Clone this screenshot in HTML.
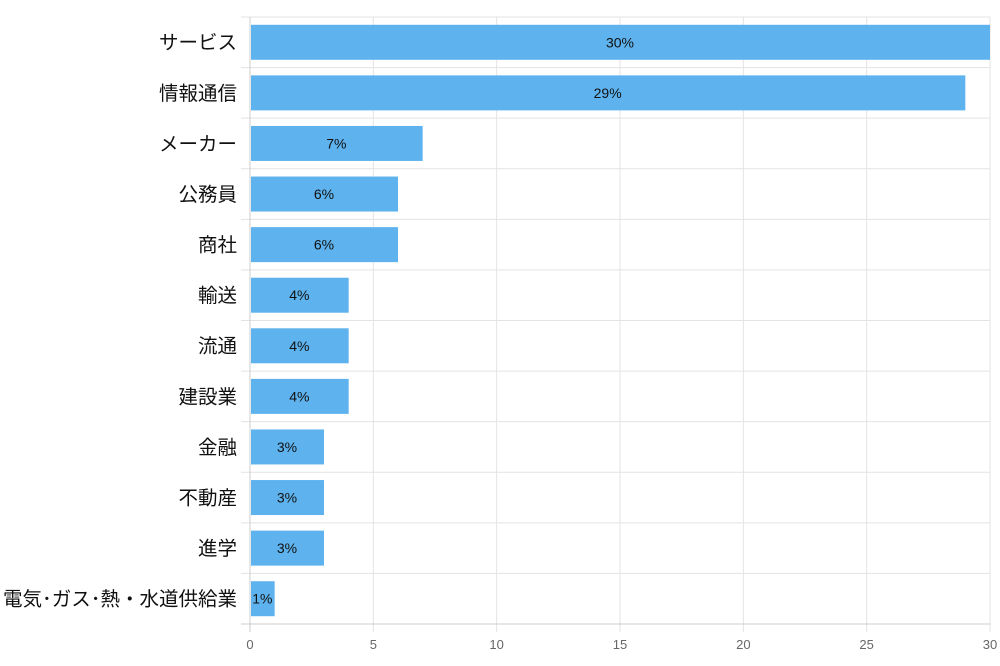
<!DOCTYPE html>
<html><head><meta charset="utf-8"><style>
html,body{margin:0;padding:0;background:#fff;}
svg{display:block;}
.c{font-family:"Liberation Sans","Noto Sans CJK JP",sans-serif;font-size:19.5px;fill:#111;}
.v{font-family:"Liberation Sans",sans-serif;font-size:14px;fill:#111;}
.t{font-family:"Liberation Sans",sans-serif;font-size:13px;fill:#666;}
</style></head><body>
<svg width="1000" height="666" xmlns="http://www.w3.org/2000/svg">
<g stroke="#e3e3e3">
<line x1="373.33" y1="17" x2="373.33" y2="632"/>
<line x1="496.67" y1="17" x2="496.67" y2="632"/>
<line x1="620" y1="17" x2="620" y2="632"/>
<line x1="743.33" y1="17" x2="743.33" y2="632"/>
<line x1="866.67" y1="17" x2="866.67" y2="632"/>
<line x1="990" y1="17" x2="990" y2="632"/>
<line x1="241" y1="17" x2="990" y2="17"/>
<line x1="241" y1="67.58" x2="990" y2="67.58"/>
<line x1="241" y1="118.17" x2="990" y2="118.17"/>
<line x1="241" y1="168.75" x2="990" y2="168.75"/>
<line x1="241" y1="219.33" x2="990" y2="219.33"/>
<line x1="241" y1="269.92" x2="990" y2="269.92"/>
<line x1="241" y1="320.5" x2="990" y2="320.5"/>
<line x1="241" y1="371.08" x2="990" y2="371.08"/>
<line x1="241" y1="421.67" x2="990" y2="421.67"/>
<line x1="241" y1="472.25" x2="990" y2="472.25"/>
<line x1="241" y1="522.83" x2="990" y2="522.83"/>
<line x1="241" y1="573.42" x2="990" y2="573.42"/>
</g>
<line x1="250" y1="17" x2="250" y2="632" stroke="#ccc"/>
<line x1="241" y1="624" x2="990" y2="624" stroke="#ccc"/>
<g text-anchor="middle">
<text class="t" x="250" y="649">0</text>
<text class="t" x="373.33" y="649">5</text>
<text class="t" x="496.67" y="649">10</text>
<text class="t" x="620" y="649">15</text>
<text class="t" x="743.33" y="649">20</text>
<text class="t" x="866.67" y="649">25</text>
<text class="t" x="990" y="649">30</text>
</g>
<g fill="#5eb3ee">
<rect x="251" y="24.79" width="739" height="35"/>
<rect x="251" y="75.38" width="714.33" height="35"/>
<rect x="251" y="125.96" width="171.67" height="35"/>
<rect x="251" y="176.54" width="147" height="35"/>
<rect x="251" y="227.13" width="147" height="35"/>
<rect x="251" y="277.71" width="97.67" height="35"/>
<rect x="251" y="328.29" width="97.67" height="35"/>
<rect x="251" y="378.88" width="97.67" height="35"/>
<rect x="251" y="429.46" width="73" height="35"/>
<rect x="251" y="480.04" width="73" height="35"/>
<rect x="251" y="530.63" width="73" height="35"/>
<rect x="251" y="581.21" width="23.67" height="35"/>
</g>
<g text-anchor="middle">
<text class="v" x="620" y="47.3">30%</text>
<text class="v" x="607.67" y="97.9">29%</text>
<text class="v" x="336.33" y="148.5">7%</text>
<text class="v" x="324" y="199">6%</text>
<text class="v" x="324" y="249.6">6%</text>
<text class="v" x="299.33" y="300.2">4%</text>
<text class="v" x="299.33" y="350.8">4%</text>
<text class="v" x="299.33" y="401.4">4%</text>
<text class="v" x="287" y="452">3%</text>
<text class="v" x="287" y="502.5">3%</text>
<text class="v" x="287" y="553.1">3%</text>
<text class="v" x="262.33" y="603.7">1%</text>
</g>
<g text-anchor="end">
<text class="c" x="237" y="49.2">サービス</text>
<text class="c" x="237" y="99.8">情報通信</text>
<text class="c" x="237" y="150.4">メーカー</text>
<text class="c" x="237" y="200.9">公務員</text>
<text class="c" x="237" y="251.5">商社</text>
<text class="c" x="237" y="302.1">輸送</text>
<text class="c" x="237" y="352.7">流通</text>
<text class="c" x="237" y="403.3">建設業</text>
<text class="c" x="237" y="453.9">金融</text>
<text class="c" x="237" y="504.4">不動産</text>
<text class="c" x="237" y="555">進学</text>
<text class="c" x="237" y="605.6">電気･ガス･熱・水道供給業</text>
</g>
</svg>
</body></html>
